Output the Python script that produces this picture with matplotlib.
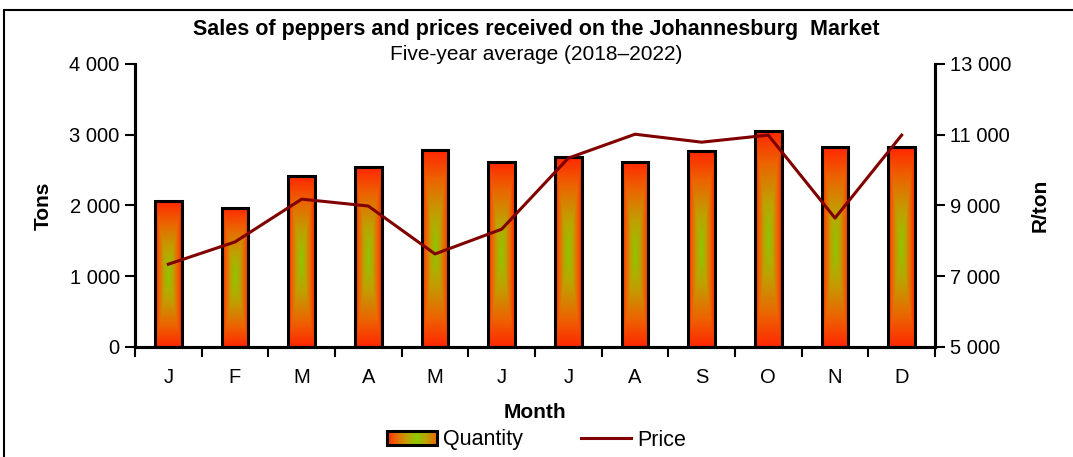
import numpy as np
import matplotlib
matplotlib.use('Agg')
import matplotlib.pyplot as plt
from matplotlib.colors import LinearSegmentedColormap
from matplotlib.patches import Rectangle
from matplotlib.legend_handler import HandlerBase
from matplotlib.lines import Line2D

months = ['J', 'F', 'M', 'A', 'M', 'J', 'J', 'A', 'S', 'O', 'N', 'D']
quantity = [2060, 1965, 2415, 2540, 2780, 2615, 2685, 2615, 2770, 3050, 2825, 2825]
price = [7340, 7970, 9180, 8985, 7630, 8330, 10340, 11015, 10790, 10990, 8645, 10990]

plt.rcParams['font.family'] = ['Liberation Sans', 'DejaVu Sans']

cmap = LinearSegmentedColormap.from_list(
    'pep', [(0, '#8cc800'), (0.35, '#c0a000'), (0.7, '#ec6400'), (1, '#ff2800')])

fig = plt.figure(figsize=(10.73, 4.57), dpi=100)
ax = fig.add_axes([135/1073, 1-347/457, 800/1073, 283/457])
ax2 = ax.twinx()

# bars with a centre-out gradient
bw = 0.4
for i, q in enumerate(quantity):
    nx, ny = 40, 200
    u = np.abs(np.linspace(-1, 1, nx))[None, :]
    v = np.abs(np.linspace(-1, 1, ny))[:, None]
    val = np.maximum(u, v)
    ax.imshow(val, cmap=cmap, vmin=0, vmax=1, aspect='auto', origin='lower',
              extent=(i - bw/2, i + bw/2, 0, q), zorder=2, interpolation='bilinear')
    ax.add_patch(Rectangle((i - bw/2, 0), bw, q, facecolor='none',
                           edgecolor='black', linewidth=2.2, zorder=3))

ax2.plot(range(len(price)), price, color='#800000', linewidth=2.2, zorder=4)

ax.set_xlim(-0.5, 11.5)
ax.set_ylim(0, 4000)
ax2.set_ylim(5000, 13000)
ax.set_yticks(np.arange(0, 4001, 1000))
ax.set_yticklabels(['0', '1 000', '2 000', '3 000', '4 000'])
ax2.set_yticks(np.arange(5000, 13001, 2000))
ax2.set_yticklabels(['5 000', '7 000', '9 000', '11 000', '13 000'])

ax.set_xticks(np.arange(-0.5, 12, 1))
ax.set_xticklabels([])
ax.set_xticks(np.arange(12), minor=True)
ax.set_xticklabels(months, minor=True)
ax.tick_params(axis='x', which='minor', length=0, pad=15, labelsize=14.5)
ax.tick_params(axis='x', which='major', length=7, width=1.5, direction='out')
ax.tick_params(axis='y', length=7, width=1.5, direction='out', labelsize=14.5, pad=4)
ax2.tick_params(axis='y', length=7, width=1.5, direction='out', labelsize=14.5, pad=4)

for a in (ax, ax2):
    a.spines['top'].set_visible(False)
    for s in ('left', 'right', 'bottom'):
        a.spines[s].set_linewidth(2.2)

ax.set_ylabel('Tons', fontsize=15, fontweight='bold', labelpad=12)
ax2.set_ylabel('R/ton', fontsize=15, fontweight='bold', labelpad=14)
ax.set_xlabel('Month', fontsize=15, fontweight='bold', labelpad=12)

fig.text(0.5, 1-30/457, 'Sales of peppers and prices received on the Johannesburg  Market',
         ha='center', va='center', fontsize=15.5, fontweight='bold')
fig.text(0.5, 1-55/457, 'Five-year average (2018\u20132022)', ha='center', va='center', fontsize=15)


class GradientHandler(HandlerBase):
    def create_artists(self, legend, orig_handle, xdescent, ydescent, width, height, fontsize, trans):
        arts = []
        n = 24
        for k in range(n):
            t = abs((k + 0.5) / n - 0.6) / 0.6
            arts.append(Rectangle((-xdescent + width * k / n, -ydescent), width / n + 0.3, height,
                                  facecolor=cmap(min(t, 1)), edgecolor='none', transform=trans))
        arts.append(Rectangle((-xdescent, -ydescent), width, height, facecolor='none',
                              edgecolor='black', linewidth=2.2, transform=trans))
        return arts


qty_handle = Rectangle((0, 0), 1, 1)
price_handle = Line2D([], [], color='#800000', linewidth=2.2)
fig.legend([qty_handle, price_handle], ['Quantity', 'Price'],
           handler_map={Rectangle: GradientHandler()},
           loc='center', bbox_to_anchor=(0.5, 1-440/457), ncol=2, frameon=False,
           fontsize=15.5, handlelength=2.3, handleheight=0.6, columnspacing=2.7, handletextpad=0.3)

fig.patches.append(Rectangle((4/1073, -0.1), 1.2, 1.1 - 10/457, transform=fig.transFigure,
                             facecolor='none', edgecolor='black', linewidth=1.5))

fig.savefig('out.png', dpi=100)
